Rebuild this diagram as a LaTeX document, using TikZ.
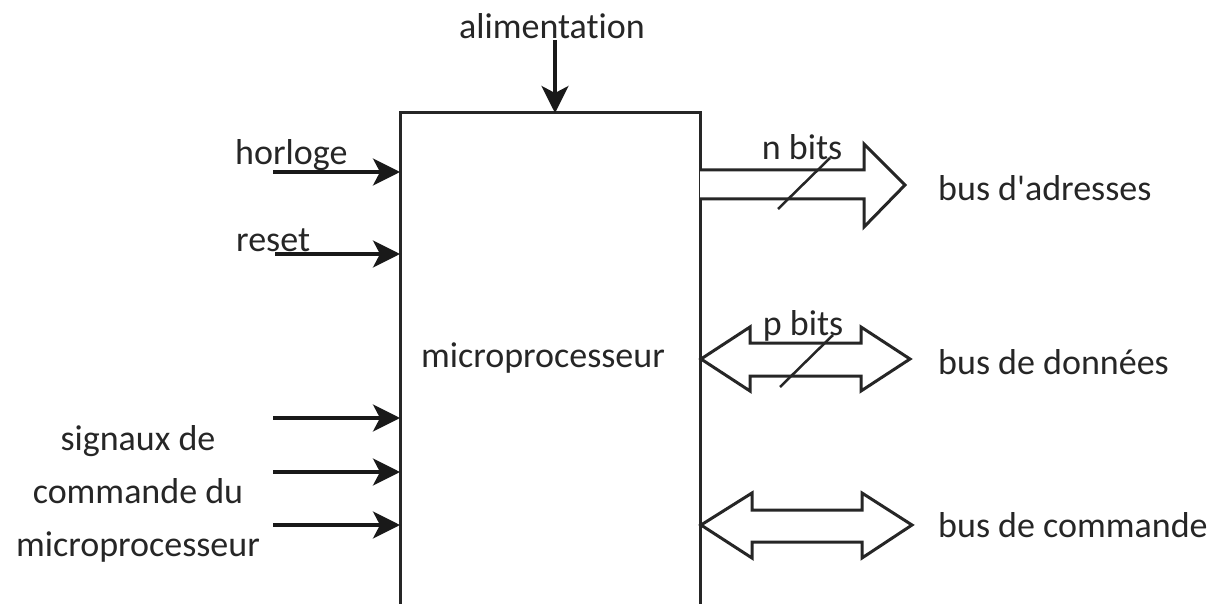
\documentclass[tikz,border=0pt]{standalone}
\usepackage{fontspec}
\setmainfont{Carlito}[Ligatures={NoCommon}]
\usetikzlibrary{arrows.meta}
\tikzset{
  lbl/.style={inner sep=0pt, font=\fontsize{36}{53}\selectfont, text=black!85},
  inarrow/.style={line width=3.5pt, draw=black!90, -{Stealth[length=27pt,width=27pt,inset=7pt]}},
  boxline/.style={line width=3pt, draw=black!85},
  bus/.style={line width=3pt, draw=black!85, line join=miter, fill=white},
  slash/.style={line width=2.5pt, draw=black!85}
}
\begin{document}
\begin{tikzpicture}[x=1pt,y=-1pt]
\useasboundingbox (0,0) rectangle (1216,604);
% box
\coordinate (bl) at (400,604);
\coordinate (tl) at (400,113);
\coordinate (tr) at (700,113);
\coordinate (br) at (700,604);
\draw[boxline] (bl) -- (tl) -- (tr) -- (br);
\node[lbl] (mp) at (543,358) {microprocesseur};
% alimentation
\node[lbl] (alim) at (552,26) {alimentation};
\coordinate (alimT) at (555,113);
\draw[inarrow] (555,40) -- (alimT);
% horloge / reset
\node[lbl, anchor=west] (horl) at (235,155) {horloge};
\coordinate (h0) at (273,172);
\coordinate (h1) at (400,172);
\draw[inarrow] (h0) -- (h1);
\node[lbl, anchor=west] (rst) at (236,240) {reset};
\coordinate (r0) at (275,254);
\coordinate (r1) at (400,254);
\draw[inarrow] (r0) -- (r1);
% command signals
\node[lbl, align=center] (sig) at (138,494) {signaux de\\commande du\\microprocesseur};
\foreach \y [count=\i] in {418,472,525}{
  \coordinate (s\i a) at (273,\y);
  \coordinate (s\i b) at (400,\y);
  \draw[inarrow] (s\i a) -- (s\i b);
}
% address bus
\draw[bus] (700,170) -- (864,170) -- (864,144) -- (905,185) -- (864,227) -- (864,199) -- (700,199);
\draw[slash] (778,209) -- (830,158);
\node[lbl] (nb) at (802,147) {n bits};
\node[lbl, anchor=west] (ba) at (938,188) {bus d\textquotesingle adresses};
% data bus
\draw[bus] (701,359) -- (750,327) -- (750,343) -- (861,343) -- (861,327) -- (910,359) -- (861,391) -- (861,376) -- (750,376) -- (750,391) -- cycle;
\draw[slash] (780,387) -- (833,335);
\node[lbl] (pb) at (803,326) {p bits};
\node[lbl, anchor=west] (bd) at (938,362) {bus de données};
% command bus
\draw[bus] (701,525) -- (752,493) -- (752,510) -- (862,510) -- (862,493) -- (912,525) -- (862,558) -- (862,542) -- (752,542) -- (752,558) -- cycle;
\node[lbl, anchor=west] (bc) at (938,525) {bus de commande};
\end{tikzpicture}
\end{document}
